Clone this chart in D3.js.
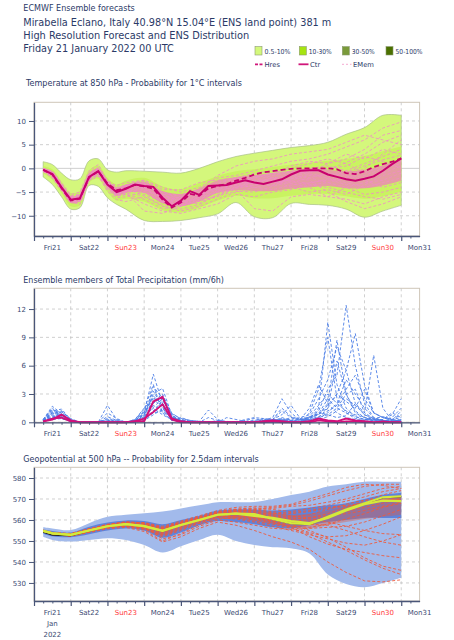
<!DOCTYPE html>
<html><head><meta charset="utf-8">
<script src="https://cdn.jsdelivr.net/npm/d3@7"></script>
<style>body{margin:0;background:#fff}svg{display:block;font-family:"DejaVu Sans",sans-serif}</style>
</head><body><svg id="c" width="454" height="640"></svg>
<script>
// ---------- DATA ----------
const dayLabels = ["Fri21","Sat22","Sun23","Mon24","Tue25","Wed26","Thu27","Fri28","Sat29","Sun30","Mon31"];
const sundayLabels = ["Sun23","Sun30"];
const dayBoundaries = [0,24,48,72,96,120,144,168,192,216,240];
const hours12 = [6,12,24,36,48,60,72,84,96,108,120,132,144,156,168,180,192,204,216,228,240];
const hours6 = [6,12,18,24,30,36,42,48,54,60,66,72,78,84,90,96,102,108,114,120,126,132,138,144,150,156,162,168,174,180,186,192,198,204,210,216,222,228,234,240];
const tempHours = [6,12,18,24,30,36,42,48,54,60,72,84,96,108,120,132,144,156,168,180,192,204,216,228,240];

const tempTicks = [-10,-5,0,5,10];
const precipTicks = [0,3,6,9,12];
const geoTicks = [530,540,550,560,570,580];

// Temperature 850 hPa (°C), 6-hourly
const tempCtr = [-0.3,-1.2,-4.0,-6.6,-6.3,-1.8,-0.6,-3.4,-5.0,-4.3,-3.4,-3.7,-3.9,-6.2,-8.0,-6.8,-4.8,-5.6,-3.7,-3.6,-3.5,-3.0,-2.5,-3.0,-3.3,-2.8,-2.3,-1.3,-0.5,-0.4,-0.4,-1.3,-1.8,-2.3,-2.6,-2.2,-1.7,-0.5,0.9,2.1];
const tempHres = [-0.3,-1.3,-4.2,-6.8,-6.4,-1.9,-0.6,-3.2,-4.6,-4.2,-3.5,-3.8,-4.3,-6.6,-8.3,-7.2,-5.4,-5.8,-4.2,-3.7,-3.3,-2.6,-2.0,-1.3,-0.8,-0.6,-0.3,-0.1,0.0,0.0,0.0,0.0,-0.2,-1.0,-1.2,-0.6,0.3,0.9,1.4,2.1];
// Temperature ensemble distribution (on tempHours)
const tempOuterHi = [1.4,0.8,-1.0,-2.4,-2.2,1.6,2.0,-0.3,-0.8,-0.5,-0.6,-0.8,-1.0,0.0,1.4,2.5,3.2,3.8,4.4,4.8,5.5,7.2,8.6,11.2,11.2];
const tempOuterLo = [-1.8,-3.4,-6.0,-8.6,-8.3,-3.6,-3.8,-6.2,-7.6,-8.6,-11.0,-11.2,-11.0,-10.4,-9.6,-7.2,-10.2,-10.4,-7.4,-7.6,-7.8,-8.6,-10.3,-9.0,-7.8];
const tempMidHi = [0.5,-0.2,-2.8,-5.2,-4.8,-0.4,0.6,-2.0,-3.4,-2.6,-2.0,-3.8,-4.4,-3.1,-1.6,-0.6,-0.2,0.3,0.8,1.2,1.6,2.0,2.6,3.6,4.6];
const tempMidLo = [-1.1,-2.4,-5.2,-8.0,-7.8,-3.0,-2.2,-5.0,-6.8,-6.4,-7.0,-8.8,-9.3,-8.3,-6.8,-5.8,-6.3,-6.3,-5.8,-5.4,-5.4,-5.9,-6.4,-5.9,-4.9];
const tempCoreHi = [0.1,-0.6,-3.3,-5.8,-5.5,-1.0,0.0,-2.6,-4.2,-3.4,-2.8,-4.8,-5.4,-4.2,-2.5,-1.8,-1.4,-1.0,-0.5,0.0,-0.3,-0.6,-0.3,0.6,2.0];
const tempCoreLo = [-0.7,-1.8,-4.6,-7.3,-7.0,-2.5,-1.4,-4.1,-5.8,-5.2,-5.2,-7.4,-8.0,-7.0,-5.2,-4.6,-4.8,-4.8,-4.3,-4.0,-3.7,-4.2,-4.2,-3.6,-2.6];
const tempMembers = [
 [-0.2,-0.8,-3.4,-5.8,-5.4,-1.0,0.2,-2.5,-4.0,-3.5,-2.5,-4.0,-5.0,-4.0,-2.0,-1.5,-0.5,0.5,1.5,2.0,3.0,4.5,6.0,8.5,9.8],
 [-0.5,-1.6,-4.4,-7.0,-6.8,-2.2,-1.2,-4.0,-5.8,-5.5,-7.5,-9.0,-9.5,-8.5,-7.5,-5.5,-6.0,-5.0,-4.5,-3.5,-4.0,-5.0,-6.0,-6.5,-5.5],
 [-0.1,-1.0,-3.6,-6.2,-5.9,-1.5,-0.4,-3.0,-4.6,-4.0,-3.5,-5.0,-6.0,-5.0,-4.0,-3.0,-2.0,-1.0,0.0,1.0,2.0,1.0,-1.0,0.5,1.5],
 [-0.6,-1.9,-4.6,-7.2,-7.0,-2.5,-1.5,-4.5,-6.2,-6.0,-5.0,-7.0,-8.0,-6.5,-5.0,-4.5,-8.5,-9.0,-6.0,-5.5,-6.0,-4.0,-3.0,-2.5,-1.0],
 [0.0,-0.6,-3.0,-5.5,-5.0,-0.5,0.8,-2.8,-4.2,-3.8,-2.8,-5.5,-5.5,-4.5,-1.5,0.5,1.5,2.0,3.0,3.5,4.0,5.5,7.0,6.0,5.0],
 [-0.4,-1.4,-4.0,-6.8,-6.5,-2.0,-0.8,-3.6,-5.4,-5.0,-9.0,-9.5,-8.0,-7.0,-6.0,-4.0,-3.5,-3.0,-2.5,-1.5,-2.0,-3.0,-4.0,-3.0,-2.0],
 [-0.3,-1.1,-3.8,-6.5,-6.2,-1.7,-0.5,-3.2,-4.8,-4.2,-4.0,-6.5,-7.5,-6.0,-3.0,-2.0,-2.5,-1.5,-0.5,-1.0,1.0,3.0,2.0,4.0,3.0],
 [-0.7,-2.0,-4.8,-7.0,-7.6,-2.6,-1.6,-4.8,-6.6,-7.0,-6.0,-8.0,-9.0,-8.0,-6.5,-5.0,-4.0,-3.5,-2.0,-2.5,-5.0,-7.0,-8.5,-7.5,-6.0],
 [-0.2,-0.9,-3.2,-6.0,-5.6,-1.2,0.0,-3.0,-3.6,-3.0,-2.5,-4.5,-4.5,-3.0,-2.5,-2.0,-1.0,-0.5,-1.0,0.0,0.5,-0.5,1.0,2.5,4.0],
 [-0.5,-1.5,-4.3,-6.9,-6.6,-2.2,-0.9,-3.8,-5.2,-4.5,-5.5,-7.0,-6.0,-4.5,-4.5,-3.5,-3.0,-2.0,-3.0,-2.0,-1.0,-1.5,-2.5,-4.0,-3.0],
 [-0.3,-1.3,-3.9,-6.4,-6.1,-1.6,-0.7,-3.5,-5.3,-4.8,-4.5,-6.0,-7.0,-6.5,-5.0,-3.5,-4.0,-4.5,-3.5,-3.0,-2.5,-2.0,-1.5,0.0,1.0],
 [-0.4,-1.2,-4.1,-6.7,-6.3,-2.0,-0.6,-3.3,-4.9,-4.0,-3.0,-5.0,-6.5,-5.5,-4.0,-2.5,-1.5,-2.0,-1.5,-0.5,0.0,0.5,2.5,1.5,0.0],
 [-0.1,-0.7,-3.5,-6.1,-5.7,-1.3,-0.1,-2.6,-4.4,-3.5,-3.2,-5.5,-7.0,-7.5,-5.5,-4.0,-3.0,-2.5,-4.0,-5.0,-4.5,-5.5,-3.5,-1.5,-0.5],
 [-0.6,-1.7,-4.5,-7.1,-6.9,-2.4,-1.3,-4.2,-5.9,-5.5,-6.5,-8.5,-8.0,-6.0,-4.5,-3.0,-2.0,-1.0,-1.5,-2.0,-3.0,-2.0,0.0,3.0,6.0],
 [-0.2,-1.0,-3.7,-6.3,-6.0,-1.9,-0.8,-3.6,-5.1,-4.6,-4.2,-6.8,-7.8,-6.8,-5.8,-4.8,-5.0,-3.8,-2.8,-3.5,-3.0,-4.0,-5.5,-5.0,-4.0],
 [-0.5,-1.3,-4.0,-6.6,-6.2,-1.5,-0.3,-2.9,-4.1,-3.6,-3.3,-5.8,-6.2,-5.2,-3.2,-2.2,-1.8,-1.2,0.5,1.5,1.0,2.0,4.0,7.0,8.0],
 [-0.3,-1.0,-3.5,-6.0,-5.7,-1.4,-0.2,-3.1,-4.6,-3.9,-3.6,-6.0,-6.6,-5.8,-4.2,-3.4,-2.6,-2.2,-1.8,-0.8,-0.2,1.2,3.0,5.5,7.0],
 [-0.4,-1.5,-4.2,-6.8,-6.6,-2.1,-1.0,-3.9,-5.7,-5.2,-5.8,-7.8,-8.6,-7.6,-5.6,-4.2,-3.6,-2.8,-3.2,-4.0,-6.0,-6.5,-7.5,-6.0,-5.0],
 [-0.3,-1.1,-3.8,-6.4,-6.1,-1.8,-0.6,-3.4,-5.0,-4.4,-3.9,-6.4,-7.2,-5.9,-3.8,-2.8,-3.2,-3.6,-2.2,-1.2,-1.6,-0.8,0.5,1.8,2.8],
 [-0.5,-1.4,-4.1,-6.7,-6.4,-2.0,-0.8,-3.7,-5.4,-4.9,-4.8,-7.2,-7.4,-6.2,-4.8,-3.9,-2.8,-2.4,-2.6,-3.2,-2.2,-3.5,-2.0,-1.0,0.5]
];

// Total precipitation (mm/6h), 6-hourly
const precipCtr = [0.1,0.3,0.8,0.2,0,0,0,0,0,0,0.1,0.1,2.2,2.7,0.4,0.1,0,0,0,0,0,0,0,0,0.1,0.2,0.1,0,0,0.1,0.4,0.2,0.1,0.4,0.2,0.1,0,0,0,0];
const precipHres = [0.1,0.4,0.5,0.1,0,0,0,0,0,0,0.1,0.4,1.1,1.9,0.3,0,0,0,0,0,0,0,0,0,0,0.1,0,0,0,0,0.2,0.1,0,0.1,0.1,0,0,0.1,0,0];
const precipMembers = [
 [0.3,1.7,0.9,0.2,0,0,0,0,0,0,0.2,1.0,5.1,2.0,0.5,0.2,0,0,0,0,0,0,0,0.1,0.2,0.3,0.2,0,0,0.3,1.5,10.6,4.0,1.5,0.6,0.3,0.2,0.1,0.3,0.5],
 [0.2,1.2,1.4,0.3,0,0,0,1.8,0.3,0,0.1,0.8,3.0,3.6,0.8,0.1,0,0,0,0.2,0.1,0,0,0,0,0.1,0.5,0.2,0,0.4,0.8,2.0,8.7,3.0,1.0,0.5,0.2,0.3,0.8,2.5],
 [0.1,0.8,0.6,0.1,0,0,0,0.6,0.2,0,0.3,1.5,2.5,1.5,0.3,0.5,0.2,0.1,1.3,0.3,0,0,0,0,0,0.2,0.3,0,0.2,0.5,1.2,3.5,5.0,12.4,6.0,2.0,0.5,0.2,0.1,0.3],
 [0.2,0.5,1.1,0.4,0,0,0,0,0,0,0.1,0.5,1.8,1.2,0.5,0.2,0,0,0,0,0,0,0.3,0.5,0.4,0.3,1.2,0.5,0.2,0.6,0.9,1.5,3.0,5.5,9.4,4.0,1.0,0.5,0.2,1.2],
 [0.1,1.0,0.7,0.2,0,0,0,1.0,0.4,0,0,0.4,3.8,2.5,0.6,0.1,0,0,0,0,0,0,0,0,0.2,0.5,2.5,1.0,0.2,0.3,0.5,0.8,1.5,3.0,3.5,1.0,7.1,1.5,0.2,0.1],
 [0.3,1.4,0.5,0.1,0,0,0,0,0,0,0.2,1.2,2.0,2.8,1.0,0.3,0.1,0,0.5,0.2,0,0,0.1,0.2,0.4,0.2,0.1,0,0,1.0,3.5,9.0,2.5,1.0,0.4,0.3,0.2,0,0.5,1.5],
 [0.2,0.9,1.2,0.2,0,0,0,0.3,0.1,0,0.1,0.6,1.5,0.8,0.3,0.1,0,0,0,0,0,0,0,0,0,0.3,1.5,0.6,0.3,0.2,0.4,1.0,2.0,4.5,3.0,1.5,0.5,0.1,0,0.3],
 [0.1,0.6,0.4,0.1,0,0,0,0,0,0,0.2,0.9,2.8,1.8,0.4,0.2,0.1,0,0,0,0,0,0,0,0.1,0.1,0.2,0.3,0.5,0.8,2.5,4.5,8.0,5.5,2.0,0.8,0.3,0.2,0.1,0.2],
 [0.2,1.1,0.8,0.3,0,0,0,0.2,0.1,0,0,0.3,1.0,1.2,0.2,0.1,0,0,0,0,0.5,0.3,0.1,0,0,0.2,0.4,0.2,0.1,0.3,0.6,1.2,1.8,3.5,5.0,2.5,1.0,0.5,0.3,0.2],
 [0.1,0.4,0.9,0.2,0,0,0,0,0,0,0.1,0.7,2.2,3.0,0.7,0.3,0.1,0,0,0,0,0,0,0,0,0,0.2,0.5,0.3,1.5,4.0,2.0,1.0,0.5,0.3,0.2,0.4,0.6,0.3,0.8],
 [0.3,1.3,1.0,0.1,0,0,0,0.4,0.2,0,0.2,1.1,3.3,1.6,0.4,0.1,0,0,0,0,0,0,0,0,0.2,0.3,0.8,1.8,0.4,0.2,0.3,0.6,1.2,2.5,1.8,0.8,0.4,0.2,0.1,0],
 [0.2,0.7,0.5,0.1,0,0,0,0,0,0,0.1,0.4,1.2,2.3,0.9,0.4,0.2,0.1,0,0,0,0,0,0.1,0.3,0.2,0.1,0.1,0.3,0.5,0.8,1.8,3.0,2.2,1.5,3.5,1.0,0.5,0.2,0.1],
 [0.1,0.5,0.8,0.2,0,0,0,0,0,0,0.3,1.4,4.0,1.0,0.2,0.1,0,0,0,0,0,0,0,0,0,0.1,0.2,0.1,0,0.2,0.5,1.5,6.5,3.0,1.2,0.5,0.3,0.1,0,0.2],
 [0.2,1.5,0.6,0.2,0,0,0,0,0,0,0.1,0.5,1.6,2.5,0.6,0.2,0.1,0,0,0,0,0,0.2,0.4,0.2,0.1,0.1,0,0.1,0.4,0.9,2.5,1.5,1.0,0.6,0.3,0.2,0.3,1.0,0.5],
 [0.1,0.3,0.4,0.1,0,0,0,0,0,0,0,0.2,0.8,1.4,0.5,0.2,0,0,0,0,0,0,0,0,0,0,0.1,0.2,0.3,0.5,1.0,0.8,0.5,0.7,2.0,1.0,0.4,0.2,0.1,0.1],
 [0.2,1.0,1.2,0.3,0,0,0,0.2,0,0,0.2,0.8,2.6,2.0,0.5,0.1,0,0,0,0,0,0,0,0,0,0.2,0.3,0.1,0,0.6,1.8,3.0,2.0,1.2,0.8,0.5,0.3,0.2,0.1,0.3]
];

// Geopotential 500 hPa (dam), 12-hourly
const geoCtr = [554.8,553.6,552.9,555.0,557.0,558.0,557.1,554.8,557.6,560.0,562.5,563.0,562.8,560.5,558.5,558.0,561.5,565.0,568.0,570.8,571.3];
const geoHres = [554.8,553.6,552.9,555.0,557.0,558.0,557.1,554.8,557.6,560.0,562.5,563.0,562.0,561.0,559.5,558.5,561.0,564.5,567.5,569.2,569.0];
const geoBlack = [554.2,552.8,552.5,554.8,556.9,557.9,557.0,554.6,557.5,559.9,562.4,562.9,562.6,560.4,558.4,557.9,561.4,564.9,567.9,570.6,571.1];
const geoOuterHi = [556.5,556.0,555.2,558.5,561.5,562.5,563.2,564.0,565.5,567.0,568.5,568.5,568.6,570.0,571.9,573.5,575.9,577.0,578.2,578.2,578.2];
const geoOuterLo = [552.0,550.5,549.7,550.5,551.3,550.5,548.1,544.5,547.5,550.5,553.0,550.0,548.1,547.0,546.5,544.0,534.0,529.5,528.0,530.0,532.5];
const geoDarkHi = [555.5,554.8,554.0,556.8,558.8,559.8,559.5,558.0,560.0,562.0,564.5,565.0,565.0,564.5,565.0,566.0,567.0,568.0,570.0,572.0,573.0];
const geoDarkLo = [553.5,552.2,551.8,553.2,555.0,556.0,555.0,551.5,554.0,557.5,559.5,559.0,558.0,556.5,556.0,557.5,559.0,560.0,561.0,561.0,561.0];
const geoCoreHi = [555.4,554.4,553.8,556.0,558.0,559.2,558.6,556.8,559.2,561.4,563.8,564.6,564.6,563.4,562.5,563.0,564.5,566.5,568.5,570.5,572.0];
const geoCoreLo = [554.0,552.8,552.2,554.0,555.8,556.6,555.4,552.8,555.6,558.6,561.0,561.0,560.0,558.2,556.5,556.0,557.5,559.0,560.5,561.5,562.5];
const geoMembers = [
 [555.0,553.8,553.5,555.8,557.8,559.0,558.5,556.5,559.0,561.5,564.0,565.0,565.5,566.0,567.0,569.0,571.5,574.0,576.0,577.0,577.0],
 [554.5,553.2,552.2,554.0,555.8,556.5,554.5,549.5,552.0,556.0,559.0,557.5,555.0,552.0,549.5,546.0,540.0,535.0,531.0,530.5,531.5],
 [554.8,553.5,553.0,555.2,557.2,558.5,557.8,555.5,558.2,560.5,563.0,564.0,564.5,563.5,562.0,561.0,563.0,566.0,569.0,572.0,574.0],
 [554.6,553.0,552.4,554.5,556.5,557.0,555.8,552.5,555.5,558.5,561.0,560.5,559.0,557.0,555.0,553.0,551.0,549.0,548.0,550.0,553.0],
 [555.2,554.0,553.4,555.5,557.5,558.8,558.8,557.0,559.5,562.0,564.5,566.0,566.5,566.5,567.5,570.0,572.5,575.5,577.0,576.5,575.0],
 [554.7,553.4,552.7,554.8,556.8,557.6,556.2,553.5,556.5,559.5,562.0,562.0,561.0,559.0,556.5,552.0,548.5,546.0,544.5,543.0,542.0],
 [554.9,553.7,553.1,555.3,557.4,558.3,557.5,555.2,558.0,560.8,563.5,564.5,564.0,562.5,561.5,562.5,565.0,567.5,569.5,570.0,569.5],
 [554.4,553.1,552.5,554.6,556.4,557.3,556.5,551.0,553.0,557.0,560.0,559.0,557.5,556.0,555.5,556.0,556.5,557.0,559.0,562.0,565.0],
 [555.1,553.9,553.2,555.6,557.6,558.6,557.8,556.0,558.6,561.2,563.2,563.5,562.5,561.0,560.0,559.5,561.5,564.0,566.0,568.0,570.5],
 [554.6,553.3,552.6,554.7,556.6,557.5,556.8,554.0,557.0,559.5,561.8,561.5,560.5,559.5,558.0,555.0,551.5,547.0,542.0,538.0,536.0],
 [554.9,553.6,552.9,555.1,557.1,558.2,557.3,555.0,557.9,560.3,562.8,563.5,563.5,563.0,563.5,564.5,566.0,567.0,568.0,569.5,571.0],
 [554.5,553.2,552.4,554.3,556.2,557.0,555.2,550.0,553.5,557.8,560.5,561.0,560.0,558.5,557.0,556.5,558.0,560.5,563.0,566.0,568.0],
 [555.0,553.9,553.6,555.9,558.0,559.2,558.6,556.2,558.8,561.0,563.8,564.8,565.0,564.0,563.0,564.0,565.5,566.5,567.5,569.0,570.0],
 [554.7,553.4,552.8,554.9,556.9,557.8,556.9,554.2,557.2,559.8,562.2,562.5,561.5,559.5,557.0,554.0,552.0,552.5,555.0,558.0,561.5],
 [554.8,553.5,552.9,555.0,557.0,557.9,557.0,554.5,557.4,560.0,562.5,563.0,563.2,562.0,561.0,560.5,559.0,557.0,555.0,553.5,553.0],
 [554.6,553.3,552.7,554.8,556.9,558.1,557.4,555.5,558.3,560.6,563.1,564.2,564.8,565.5,566.5,567.0,568.5,570.0,572.5,575.0,576.0],
 [554.9,553.5,553.1,555.4,557.3,558.4,557.9,555.8,558.5,561.0,563.4,564.0,563.0,561.5,560.5,561.0,562.0,563.0,564.5,566.5,568.5],
 [554.5,553.2,552.5,554.5,556.5,557.5,556.0,552.0,555.0,558.5,561.2,561.8,561.2,560.0,559.0,558.0,557.5,555.0,552.0,549.5,548.0],
 [554.8,553.6,553.3,555.6,557.7,558.8,558.2,556.0,558.9,561.4,563.9,565.2,565.8,565.0,564.0,565.5,567.0,569.0,571.0,573.5,575.0],
 [554.6,553.3,552.6,554.6,556.6,557.4,556.2,553.0,556.0,559.2,561.6,561.0,559.5,558.0,556.0,553.5,549.5,545.5,541.0,537.0,534.0]
];

// ---------- DRAW ----------
const svg = d3.select("#c");
const navy = "#2b3a67", tickCol = "#3b4a72";
const x = d3.scaleLinear().domain([0,252]).range([34,419.6]);
const smooth = d3.curveCatmullRom.alpha(0.5);

function fitText(sel, w){ sel.attr("textLength", w).attr("lengthAdjust","spacingAndGlyphs"); }

// header
const header = [
  {t:"ECMWF Ensemble forecasts", y:11, s:8.5, w:111.5},
  {t:"Mirabella Eclano, Italy 40.98°N 15.04°E (ENS land point) 381 m", y:25.5, s:10.3, w:308},
  {t:"High Resolution Forecast and ENS Distribution", y:38.5, s:10.3, w:226},
  {t:"Friday 21 January 2022 00 UTC", y:51.7, s:10.3, w:150.5}
];
header.forEach(h=>{
  const t = svg.append("text").attr("x",23.3).attr("y",h.y).attr("font-size",h.s).attr("fill",navy).text(h.t);
  fitText(t,h.w);
});

// legend
const legBoxes = [
  {lab:"0.5-10%", c:"#d4f87c", x:255, tw:26},
  {lab:"10-30%", c:"#a6e411", x:299.3, tw:23},
  {lab:"30-50%", c:"#7a9a3a", x:342.3, tw:23},
  {lab:"50-100%", c:"#4b7000", x:386, tw:27}
];
legBoxes.forEach(b=>{
  svg.append("rect").attr("x",b.x).attr("y",46.6).attr("width",7).attr("height",8.4).attr("fill",b.c).attr("stroke","#8a9a70").attr("stroke-width",0.6);
  const t=svg.append("text").attr("x",b.x+9.5).attr("y",54).attr("font-size",6.8).attr("fill",navy).text(b.lab);
  fitText(t,b.tw);
});
const legLines = [
  {lab:"Hres", x:255, w:8, c:"#d0157a", dash:"3,1.5", sw:1.8},
  {lab:"Ctr", x:298.5, w:10, c:"#d0157a", dash:null, sw:1.8},
  {lab:"EMem", x:342, w:9.5, c:"#f4a0cc", dash:"2,2", sw:0.9}
];
legLines.forEach(l=>{
  const ln=svg.append("line").attr("x1",l.x).attr("x2",l.x+l.w).attr("y1",64.3).attr("y2",64.3).attr("stroke",l.c).attr("stroke-width",l.sw);
  if(l.dash) ln.attr("stroke-dasharray",l.dash);
  svg.append("text").attr("x",l.x+l.w+1.5).attr("y",66.8).attr("font-size",6.8).attr("fill",navy).text(l.lab);
});

function panel(o){
  const y = d3.scaleLinear().domain(o.dom).range([o.bottom,o.top]);
  const g = svg.append("g");
  const tt = g.append("text").attr("x",o.tx).attr("y",o.ty).attr("font-size",8.6).attr("fill",navy).text(o.title);
  fitText(tt,o.tw);
  g.append("rect").attr("x",x(0)).attr("y",o.top).attr("width",x(252)-x(0)).attr("height",o.bottom-o.top)
    .attr("fill","#fff").attr("stroke","#cfc6b8").attr("stroke-width",1);
  const grid = g.append("g");
  dayBoundaries.slice(1).forEach(h=>{
    grid.append("line").attr("x1",x(h)).attr("x2",x(h)).attr("y1",o.top).attr("y2",o.bottom)
      .attr("stroke","#c4c4c4").attr("stroke-width",0.8).attr("stroke-dasharray","3,3");
  });
  o.ticks.forEach(v=>{
    grid.append("line").attr("x1",x(0)).attr("x2",x(252)).attr("y1",y(v)).attr("y2",y(v))
      .attr("stroke","#c4c4c4").attr("stroke-width",0.8).attr("stroke-dasharray", (o.solidZero && v===0)?null:"3,3");
  });
  const plot = g.append("g");
  o.draw(plot,y);
  const ya = g.append("g").attr("transform",`translate(${x(0)},0)`)
    .call(d3.axisLeft(y).tickValues(o.ticks).tickSize(5).tickPadding(3).tickSizeOuter(0));
  ya.select(".domain").attr("stroke","#4a5678").attr("stroke-width",1.3);
  ya.selectAll(".tick line").attr("stroke","#4a5678");
  ya.selectAll("text").attr("font-size",7).attr("fill",tickCol).attr("font-family","DejaVu Sans");
  const xa = g.append("g").attr("transform",`translate(0,${o.bottom})`)
    .call(d3.axisBottom(x).tickValues(dayBoundaries).tickSize(5).tickFormat("").tickSizeOuter(0));
  xa.select(".domain").attr("stroke","#4a5678").attr("stroke-width",1.3);
  xa.selectAll(".tick line").attr("stroke","#4a5678").attr("stroke-width",1.2);
  const minor = g.append("g").attr("transform",`translate(0,${o.bottom})`)
    .call(d3.axisBottom(x).tickValues(hours6.filter(h=>h%24!==0).concat([246])).tickSize(2.5).tickFormat("").tickSizeOuter(0));
  minor.select(".domain").remove();
  minor.selectAll(".tick line").attr("stroke","#4a5678");
  dayLabels.forEach((d,i)=>{
    g.append("text").attr("x",x(12+24*i)).attr("y",o.bottom+13.5).attr("text-anchor","middle")
      .attr("font-size",7).attr("fill",sundayLabels.includes(d)?"#ff3a3a":tickCol).text(d);
  });
  return y;
}

// Panel 1: temperature
panel({title:"Temperature at 850 hPa - Probability for 1°C intervals", tx:26, ty:85.5, tw:216,
  top:102.3, bottom:236, dom:[-14.27,13.94], ticks:tempTicks, solidZero:true,
  draw:(p,y)=>{
    const area = (lo,hi)=>d3.area().x((d,i)=>x(tempHours[i])).y0((d,i)=>y(lo[i])).y1((d,i)=>y(hi[i])).curve(smooth)(tempHours);
    p.append("path").attr("d",area(tempOuterLo,tempOuterHi)).attr("fill","#d4f77c").attr("stroke","#a8be86").attr("stroke-width",0.7);
    p.append("path").attr("d",area(tempMidLo,tempMidHi)).attr("fill","#c6f15a").attr("opacity",0.8);
    p.append("path").attr("d",area(tempCoreLo,tempCoreHi)).attr("fill","#f07cbc").attr("opacity",0.72);
    const ml = d3.line().x((d,i)=>x(tempHours[i])).y(d=>y(d));
    tempMembers.forEach(m=>{
      p.append("path").attr("d",ml(m)).attr("fill","none").attr("stroke","#f08cc6").attr("stroke-width",0.8).attr("stroke-dasharray","3,2");
    });
    const l6 = d3.line().x((d,i)=>x(hours6[i])).y(d=>y(d));
    p.append("path").attr("d",l6(tempHres)).attr("fill","none").attr("stroke","#c8006e").attr("stroke-width",1.8).attr("stroke-dasharray","5,3");
    p.append("path").attr("d",l6(tempCtr)).attr("fill","none").attr("stroke","#c8006e").attr("stroke-width",2);
  }});

// Panel 2: precipitation
panel({title:"Ensemble members of Total Precipitation (mm/6h)", tx:23.3, ty:282.5, tw:200.7,
  top:288.3, bottom:422.3, dom:[0,14.2], ticks:precipTicks, solidZero:false,
  draw:(p,y)=>{
    const l6 = d3.line().x((d,i)=>x(hours6[i])).y(d=>y(d));
    precipMembers.forEach(m=>{
      p.append("path").attr("d",l6(m)).attr("fill","none").attr("stroke","#4d7fe6").attr("stroke-width",0.9).attr("stroke-dasharray","3,2");
    });
    p.append("path").attr("d",l6(precipHres)).attr("fill","none").attr("stroke","#d0107a").attr("stroke-width",1.8);
    p.append("path").attr("d",l6(precipCtr)).attr("fill","none").attr("stroke","#d0107a").attr("stroke-width",2);
  }});

// Panel 3: geopotential
panel({title:"Geopotential at 500 hPa -- Probability for 2.5dam intervals", tx:23.3, ty:462, tw:235.5,
  top:467.3, bottom:601, dom:[521.4,585.1], ticks:geoTicks, solidZero:false,
  draw:(p,y)=>{
    const area = (lo,hi)=>d3.area().x((d,i)=>x(hours12[i])).y0((d,i)=>y(lo[i])).y1((d,i)=>y(hi[i])).curve(smooth)(hours12);
    p.append("path").attr("d",area(geoOuterLo,geoOuterHi)).attr("fill","#a2baeb");
    p.append("path").attr("d",area(geoDarkLo,geoDarkHi)).attr("fill","#5479d8").attr("opacity",0.85);
    p.append("path").attr("d",area(geoCoreLo,geoCoreHi)).attr("fill","#e2583e").attr("opacity",0.4);
    const ml = d3.line().x((d,i)=>x(hours12[i])).y(d=>y(d));
    geoMembers.forEach(m=>{
      p.append("path").attr("d",ml(m)).attr("fill","none").attr("stroke","#ee5a3c").attr("stroke-width",0.9).attr("stroke-dasharray","3,2");
    });
    p.append("path").attr("d",ml(geoBlack)).attr("fill","none").attr("stroke","#222").attr("stroke-width",1.2);
    p.append("path").attr("d",ml(geoHres)).attr("fill","none").attr("stroke","#d4ea3a").attr("stroke-width",2.2);
    p.append("path").attr("d",ml(geoCtr)).attr("fill","none").attr("stroke","#d4ea3a").attr("stroke-width",2.2);
  }});
svg.append("text").attr("x",x(12)).attr("y",625.5).attr("text-anchor","middle").attr("font-size",7).attr("fill",tickCol).text("Jan");
svg.append("text").attr("x",x(12)).attr("y",637).attr("text-anchor","middle").attr("font-size",7).attr("fill",tickCol).text("2022");
</script></body></html>
